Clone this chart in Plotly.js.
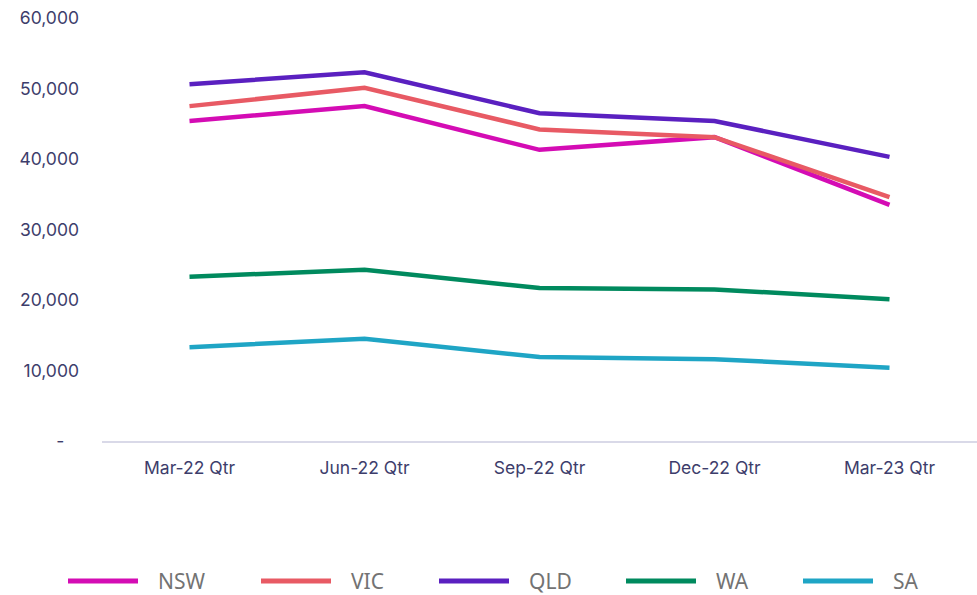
<!DOCTYPE html>
<html>
<head>
<meta charset="utf-8">
<script src="https://cdn.plot.ly/plotly-3.0.1.min.js"></script>
<style>html,body{margin:0;padding:0;background:#fff;}#chart{width:977px;height:595px;}</style>
</head>
<body>
<div id="chart"></div>
<script>
const categories = ["Mar-22 Qtr", "Jun-22 Qtr", "Sep-22 Qtr", "Dec-22 Qtr", "Mar-23 Qtr"];
const seriesNames = ["NSW", "VIC", "QLD", "WA", "SA"];
const NSW = [45400, 47500, 41300, 43100, 33500];
const VIC = [47500, 50100, 44200, 43100, 34600];
const QLD = [50600, 52300, 46500, 45400, 40300];
const WA  = [23300, 24300, 21700, 21500, 20100];
const SA  = [13300, 14500, 11900, 11600, 10400];
const yTickVals = [0, 10000, 20000, 30000, 40000, 50000, 60000];
const yTickText = ["-&nbsp;&nbsp;&nbsp;", "10,000", "20,000", "30,000", "40,000", "50,000", "60,000"];

const colors = ["#d40cb4", "#e85a64", "#5a20c0", "#008a5e", "#1fa5c5"];
const values = [NSW, VIC, QLD, WA, SA];

const W = 977, H = 595;
const M = {l: 102, r: 0, t: 18, b: 154};
const pw = W - M.l - M.r, ph = H - M.t - M.b;
const px2x = px => (px - M.l) / pw;
const py2y = py => (H - M.b - py) / ph;

const traces = seriesNames.map((n, i) => ({
  type: "scatter",
  mode: "lines",
  name: n,
  x: categories,
  y: values[i],
  line: {color: colors[i], width: 4.5},
  hoverinfo: "x+y+name",
  showlegend: false
}));

// custom legend (line sample + label) placed below the plot
const legendLineStart = [68, 261, 439, 626, 803];
const legendY = 581;
const shapes = [];
const annotations = [];
seriesNames.forEach((n, i) => {
  shapes.push({
    type: "line", xref: "paper", yref: "paper",
    x0: px2x(legendLineStart[i]), x1: px2x(legendLineStart[i] + 70),
    y0: py2y(legendY), y1: py2y(legendY),
    line: {color: colors[i], width: 5}
  });
  annotations.push({
    xref: "paper", yref: "paper",
    x: px2x(legendLineStart[i] + 88), y: py2y(legendY),
    xanchor: "left", yanchor: "middle",
    text: n, showarrow: false,
    font: {family: "'Noto Sans', 'Open Sans', sans-serif", size: 21, color: "#737373"}
  });
});

const layout = {
  width: W, height: H,
  margin: {l: M.l, r: M.r, t: M.t, b: M.b, autoexpand: false},
  paper_bgcolor: "#ffffff",
  plot_bgcolor: "#ffffff",
  font: {family: "Inter, 'Noto Sans', sans-serif", size: 18, color: "#3d3d6b"},
  xaxis: {
    type: "category",
    range: [-0.5, 4.5],
    showgrid: false,
    zeroline: false,
    showline: true,
    linecolor: "#d9d9e8",
    linewidth: 1.5,
    ticks: "",
    ticklabelstandoff: 10,
    tickfont: {family: "Inter, sans-serif", size: 17.5, color: "#3d3d6b"},
    automargin: false,
    fixedrange: true
  },
  yaxis: {
    range: [0, 60000],
    tickvals: yTickVals,
    ticktext: yTickText,
    showgrid: false,
    zeroline: false,
    showline: false,
    ticks: "",
    ticklabelstandoff: 22,
    tickfont: {family: "Inter, sans-serif", size: 17.5, color: "#3d3d6b"},
    automargin: false,
    fixedrange: true
  },
  showlegend: false,
  shapes: shapes,
  annotations: annotations
};

Plotly.newPlot("chart", traces, layout, {displayModeBar: false, staticPlot: true});
</script>
</body>
</html>
